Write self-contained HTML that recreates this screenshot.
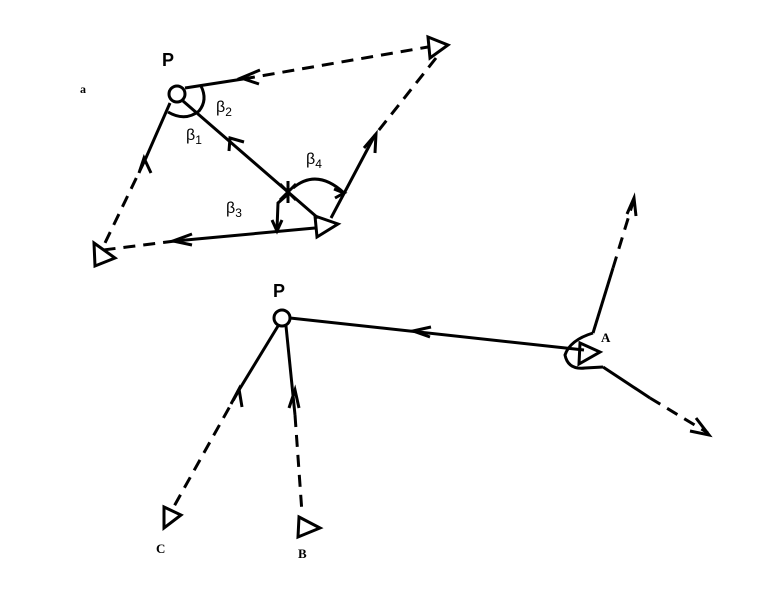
<!DOCTYPE html>
<html><head><style>body{margin:0;background:#fff}svg{display:block}</style></head><body>
<svg width="771" height="594" viewBox="0 0 771 594" xmlns="http://www.w3.org/2000/svg" font-family="Liberation Sans, sans-serif">
<g stroke="#000" stroke-width="3" fill="none" stroke-linecap="butt">
<!-- top diagram -->
<circle cx="177" cy="94" r="8" fill="#fff"/>
<line x1="185" y1="88" x2="243" y2="79"/>
<line x1="243" y1="79" x2="428" y2="47" stroke-dasharray="12,8"/>
<polyline points="260,70 241,78 259,84"/>
<polygon points="428,37 448,45 430,58"/>
<line x1="436" y1="58" x2="375" y2="135" stroke-dasharray="12,8"/>
<line x1="375" y1="135" x2="331" y2="218"/>
<polyline points="364,148 376,134 375,153"/>
<polygon points="315,216 338,224 317,237"/>
<line x1="183" y1="101" x2="318" y2="218"/>
<polyline points="229,151 230,138 244,142"/>
<line x1="280" y1="184" x2="296" y2="200"/>
<line x1="280" y1="200" x2="296" y2="184"/>
<line x1="288" y1="181" x2="288" y2="203"/>
<line x1="315" y1="228" x2="175" y2="241"/>
<line x1="175" y1="241" x2="103" y2="250" stroke-dasharray="12,8"/>
<polyline points="192,234 173,241 192,245"/>
<polygon points="94,243 115,258 95,266"/>
<line x1="170" y1="103" x2="145" y2="160"/>
<line x1="145" y1="160" x2="104" y2="245" stroke-dasharray="12,8"/>
<polyline points="139,173 144,158 151,173"/>
<path d="M168,112 Q185,122 199,111 Q208,100 201,86"/>
<path d="M293,188 Q317,168 344,193"/>
<polyline points="334,189 344,193 335,198"/>
<path d="M287,195 L278,203 L277,229"/>
<polyline points="272,220 277,231 282,220"/>
<!-- bottom diagram -->
<circle cx="282" cy="318" r="8" fill="#fff"/>
<line x1="290" y1="318" x2="584" y2="350"/>
<polyline points="431,327 413,331 430,337"/>
<polygon points="580,343 600,352 579,364"/>
<path d="M593,333 Q570,340 565,355 Q568,370 585,368 L603,367"/>
<line x1="593" y1="333" x2="613" y2="268"/>
<line x1="613" y1="268" x2="634" y2="199" stroke-dasharray="12,8"/>
<polyline points="627,214 634,198 636,216"/>
<line x1="603" y1="367" x2="650" y2="398"/>
<line x1="650" y1="398" x2="708" y2="433" stroke-dasharray="12,8"/>
<polyline points="696,418 709,435 690,431"/>
<line x1="278" y1="326" x2="239" y2="390"/>
<line x1="239" y1="390" x2="172" y2="510" stroke-dasharray="12,8"/>
<polyline points="231,404 239,389 242,407"/>
<polygon points="164,507 181,515 164,528"/>
<line x1="286" y1="326" x2="295" y2="415"/>
<line x1="295" y1="415" x2="302" y2="513" stroke-dasharray="12,8"/>
<polyline points="289,408 295,390 299,408"/>
<polygon points="299,517 320,528 298,537"/>
</g>
<g fill="#000">
<text x="80" y="93" font-family="Liberation Serif, serif" font-size="12" font-weight="bold">a</text>
<text x="162" y="66" font-size="18" font-weight="bold">P</text>
<text x="273" y="297" font-size="18" font-weight="bold">P</text>
<text x="216" y="112" font-size="16">β<tspan font-size="12" dy="4">2</tspan></text>
<text x="186" y="140" font-size="16">β<tspan font-size="12" dy="4">1</tspan></text>
<text x="306" y="164" font-size="16">β<tspan font-size="12" dy="4">4</tspan></text>
<text x="226" y="213" font-size="16">β<tspan font-size="12" dy="4">3</tspan></text>
<text x="601" y="342" font-family="Liberation Serif, serif" font-size="13" font-weight="bold">A</text>
<text x="156" y="553" font-family="Liberation Serif, serif" font-size="13" font-weight="bold">C</text>
<text x="298" y="558" font-family="Liberation Serif, serif" font-size="13" font-weight="bold">B</text>
</g>
</svg>
</body></html>
